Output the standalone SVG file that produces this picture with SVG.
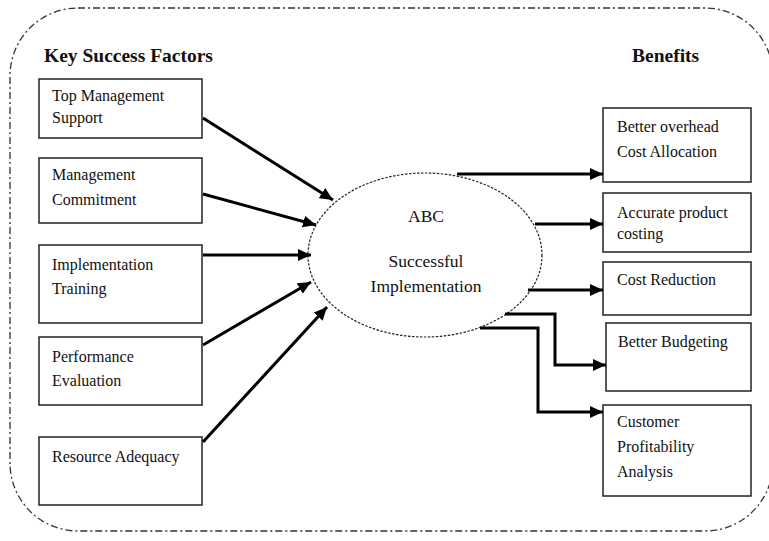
<svg xmlns="http://www.w3.org/2000/svg" width="769" height="541" viewBox="0 0 769 541">
<defs>
<style>
text{font-family:"Liberation Serif","Times New Roman",serif;fill:#111;}
.t{font-size:16px;}
.h{font-size:19.5px;font-weight:bold;}
.c{font-size:17.5px;text-anchor:middle;}
.box{fill:#fff;stroke:#222;stroke-width:1.5;}
.con{fill:none;stroke:#000;stroke-width:3;marker-end:url(#ah);}
</style>
<marker id="ah" markerUnits="userSpaceOnUse" markerWidth="14" markerHeight="12" refX="13" refY="6" orient="auto">
<path d="M0,0 L13,6 L0,12 Z" fill="#000"/>
</marker>
</defs>
<rect x="0" y="0" width="769" height="541" fill="#fff"/>
<rect id="frame" x="10" y="8" width="763" height="523" rx="68" ry="68" fill="none" stroke="#333" stroke-width="1.3" stroke-dasharray="7 3 2 3"/>
<text class="h" x="44" y="62">Key Success Factors</text>
<text class="h" x="632" y="62">Benefits</text>

<g id="ksf1"><rect class="box" x="39" y="79" width="163" height="59"/><text class="t" x="52" y="101">Top Management</text><text class="t" x="52" y="123">Support</text></g>
<g id="ksf2"><rect class="box" x="39" y="158" width="163" height="65"/><text class="t" x="52" y="180">Management</text><text class="t" x="52" y="205">Commitment</text></g>
<g id="ksf3"><rect class="box" x="39" y="245" width="163" height="78"/><text class="t" x="52" y="270">Implementation</text><text class="t" x="52" y="294">Training</text></g>
<g id="ksf4"><rect class="box" x="39" y="337" width="163" height="68"/><text class="t" x="52" y="362">Performance</text><text class="t" x="52" y="386">Evaluation</text></g>
<g id="ksf5"><rect class="box" x="39" y="437" width="163" height="68"/><text class="t" x="52" y="462">Resource Adequacy</text></g>

<g id="abc"><ellipse cx="425" cy="255" rx="117" ry="82" fill="#fff" stroke="#222" stroke-width="1.2" stroke-dasharray="2.5 1.5"/>
<text class="c" x="426" y="222">ABC</text><text class="c" x="426" y="267">Successful</text><text class="c" x="426" y="292">Implementation</text></g>

<g id="b1"><rect class="box" x="603" y="108" width="148" height="74"/><text class="t" x="617" y="132">Better overhead</text><text class="t" x="617" y="157">Cost Allocation</text></g>
<g id="b2"><rect class="box" x="603" y="193" width="148" height="59"/><text class="t" x="617" y="218">Accurate product</text><text class="t" x="617" y="239">costing</text></g>
<g id="b3"><rect class="box" x="603" y="262" width="148" height="53"/><text class="t" x="617" y="285">Cost Reduction</text></g>
<g id="b4"><rect class="box" x="606" y="323" width="145" height="68"/><text class="t" x="618" y="347">Better Budgeting</text></g>
<g id="b5"><rect class="box" x="603" y="405" width="148" height="91"/><text class="t" x="617" y="427">Customer</text><text class="t" x="617" y="452">Profitability</text><text class="t" x="617" y="477">Analysis</text></g>

<g id="connectors">
<path class="con" d="M203,118 L333,200"/>
<path class="con" d="M203,194 L316,225"/>
<path class="con" d="M203,255 L311,255"/>
<path class="con" d="M203,345 L311,282"/>
<path class="con" d="M203,442 L327,307"/>
<path class="con" d="M457,174 L603,174"/>
<path class="con" d="M535,224 L603,224"/>
<path class="con" d="M528,290 L603,290"/>
<path class="con" d="M505,314 L555,314 L555,365 L606,365"/>
<path class="con" d="M480,328 L538,328 L538,412 L603,412"/>
</g>
</svg>
